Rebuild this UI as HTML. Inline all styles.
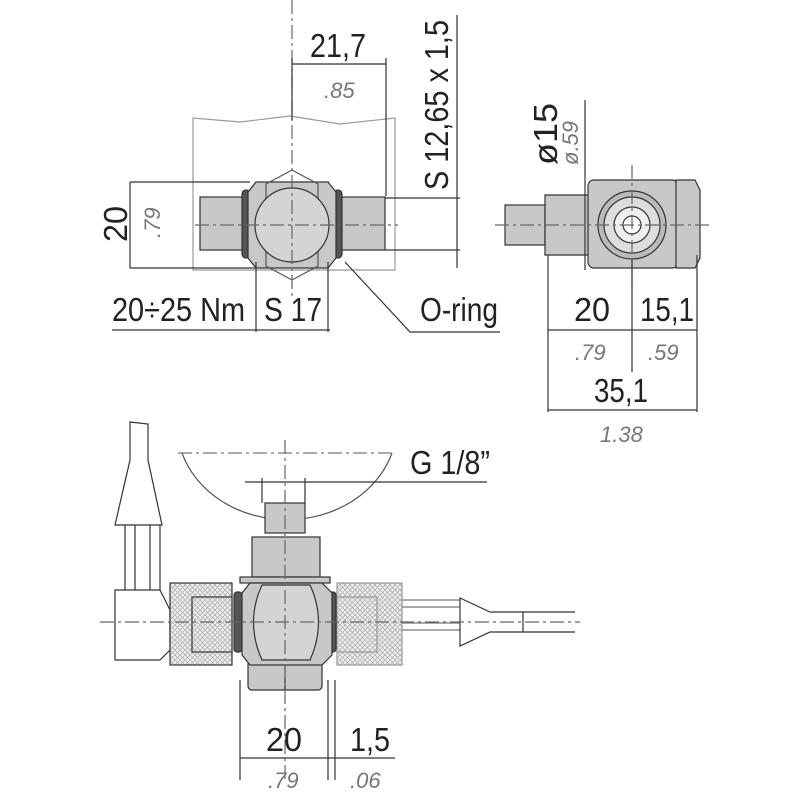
<!DOCTYPE html>
<html><head><meta charset="utf-8"><style>
html,body{margin:0;padding:0;background:#fff}
svg text{font-family:"Liberation Sans Narrow","Liberation Sans",sans-serif;fill:#222}
.t{font-size:33px}
.i{font-size:22px;font-style:italic;fill:#777}
</style></head><body>
<svg width="800" height="800" viewBox="0 0 800 800" xmlns="http://www.w3.org/2000/svg">
<defs>
<pattern id="h" width="5" height="5" patternUnits="userSpaceOnUse"><rect width="5" height="5" fill="#eee"/><path d="M0 0L5 5M5 0L0 5" stroke="#aaa" stroke-width="0.7"/></pattern>
</defs>
<g stroke="#333" stroke-width="1.2" fill="none">
<path d="M193 270 V118 L240 122 L290 116 L340 124 L395 118 V270 Z" stroke="#999"/>
<rect x="200" y="197" width="52" height="53" fill="#c8c8c8"/>
<rect x="332" y="197" width="53" height="53" fill="#c8c8c8"/>
<rect x="242" y="190" width="8" height="68" rx="4" fill="#555"/>
<rect x="334" y="190" width="8" height="68" rx="4" fill="#555"/>
<path d="M256 182 H328 L336 192 V258 L328 268 H256 L248 258 V192 Z" fill="#c8c8c8"/>
<path d="M266 184 L292 170 L318 184 V266 L292 280 L266 266 Z" fill="none" stroke="#555"/>
<circle cx="292" cy="225" r="37" fill="#d4d4d4"/>
<path d="M195 225 H398 M292 0 V300" stroke="#666" stroke-dasharray="14 4 3 4"/>
<path d="M292 58 V120 M386 58 V196 M292 64 H386"/>
<path d="M130 182 H250 M130 268 H256 M130 182 V268"/>
<path d="M457 15 V268 M385 198 H460 M385 250 H460"/>
<path d="M256 262 V332 M328 262 V332 M112 330 H330"/>
<path d="M345 262 L410 332 H500"/>
</g>
<text class="t" x="310" y="57" textLength="56" lengthAdjust="spacingAndGlyphs">21,7</text>
<text class="i" x="324" y="98">.85</text>
<text class="t" transform="translate(127,242) rotate(-90)" textLength="36" lengthAdjust="spacingAndGlyphs">20</text>
<text class="i" transform="translate(160,238) rotate(-90)">.79</text>
<text class="t" transform="translate(448,190) rotate(-90)" textLength="170" lengthAdjust="spacingAndGlyphs">S 12,65 x 1,5</text>
<text class="t" x="112" y="321" textLength="133" lengthAdjust="spacingAndGlyphs">20÷25 Nm</text>
<text class="t" x="264" y="321" textLength="58" lengthAdjust="spacingAndGlyphs">S 17</text>
<text class="t" x="420" y="321" textLength="78" lengthAdjust="spacingAndGlyphs">O-ring</text>
<g stroke="#333" stroke-width="1.2" fill="none">
<rect x="505" y="205" width="40" height="40" fill="#c8c8c8"/>
<path d="M545 195 H590 V255 H545 Z" fill="#c8c8c8"/>
<rect x="588" y="180" width="90" height="88" rx="6" fill="#c8c8c8"/>
<path d="M676 180 H695 L700 190 V258 L695 268 H676 Z" fill="#c8c8c8"/>
<circle cx="632" cy="225" r="34" fill="#bbb"/>
<circle cx="632" cy="225" r="28" fill="#ddd"/>
<circle cx="632" cy="225" r="18" fill="#eee"/>
<circle cx="632" cy="225" r="9" fill="#fff"/>
<path d="M495 225 H712 M632 165 V285" stroke="#666" stroke-dasharray="14 4 3 4"/>
<path d="M585 100 V270"/>
<path d="M548 255 V412 M632 260 V372 M697 255 V412 M548 330 H697 M548 410 H697"/>
</g>
<text class="t" transform="translate(557,165) rotate(-90)" textLength="62" lengthAdjust="spacingAndGlyphs">ø15</text>
<text class="i" transform="translate(578,165) rotate(-90)">ø.59</text>
<text class="t" x="574" y="321" textLength="36" lengthAdjust="spacingAndGlyphs">20</text>
<text class="t" x="640" y="321" textLength="54" lengthAdjust="spacingAndGlyphs">15,1</text>
<text class="i" x="575" y="360">.79</text>
<text class="i" x="648" y="360">.59</text>
<text class="t" x="594" y="402" textLength="54" lengthAdjust="spacingAndGlyphs">35,1</text>
<text class="i" x="600" y="442">1.38</text>
<g stroke="#333" stroke-width="1.2" fill="none">
<path d="M182 453 A110 95 0 0 0 392 453" stroke="#555"/>
<path d="M178 453 H392" stroke="#777" stroke-dasharray="14 4 3 4"/>
<path d="M130 422 L148 424 V460 L162 525 H115 L130 460 Z" fill="#fff"/>
<path d="M125 525 V590 M160 525 V590 M135 525 V590 M150 525 V590"/>
<path d="M115 590 H160 L170 610 V650 L160 660 H115 Z" fill="#fff"/>
<rect x="170" y="583" width="62" height="82" fill="url(#h)"/>
<rect x="192" y="597" width="40" height="55" fill="url(#h)"/>
<rect x="337" y="583" width="65" height="82" fill="url(#h)" stroke="#999"/>
<rect x="337" y="597" width="40" height="55" fill="url(#h)" stroke="#999"/>
<path d="M402 600 H460 M402 630 H460 M402 607 H460 M402 623 H460" stroke="#777"/>
<path d="M460 598 L490 612 H523 V632 H490 L460 646 Z" fill="#fff"/>
<path d="M523 612 H575 M523 632 H575"/>
<rect x="265" y="503" width="40" height="30" fill="#c8c8c8"/>
<rect x="252" y="537" width="68" height="40" fill="#c8c8c8"/>
<rect x="240" y="577" width="90" height="6" fill="#c8c8c8"/>
<rect x="234" y="592" width="8" height="60" rx="3" fill="#555"/>
<rect x="328" y="592" width="8" height="60" rx="3" fill="#555"/>
<rect x="248" y="660" width="74" height="30" rx="4" fill="#c8c8c8"/>
<path d="M285 662 V690"/>
<path d="M250 583 H322 L332 593 V655 L322 665 H250 L242 655 V593 Z" fill="#c8c8c8"/>
<path d="M262 585 Q245 622 262 660 H310 Q327 622 310 585 Z" fill="#d4d4d4"/>
<path d="M100 622 H580 M285 440 V780" stroke="#666" stroke-dasharray="14 4 3 4"/>
<path d="M262 478 V503 M305 478 V503 M245 482 H487"/>
<path d="M240 680 V780 M328 680 V780 M335 680 V780 M240 758 H395"/>
</g>
<text class="t" x="410" y="474" textLength="80" lengthAdjust="spacingAndGlyphs">G 1/8”</text>
<text class="t" x="266" y="751" textLength="36" lengthAdjust="spacingAndGlyphs">20</text>
<text class="t" x="350" y="751" textLength="40" lengthAdjust="spacingAndGlyphs">1,5</text>
<text class="i" x="268" y="788">.79</text>
<text class="i" x="350" y="788">.06</text>
</svg>
</body></html>
